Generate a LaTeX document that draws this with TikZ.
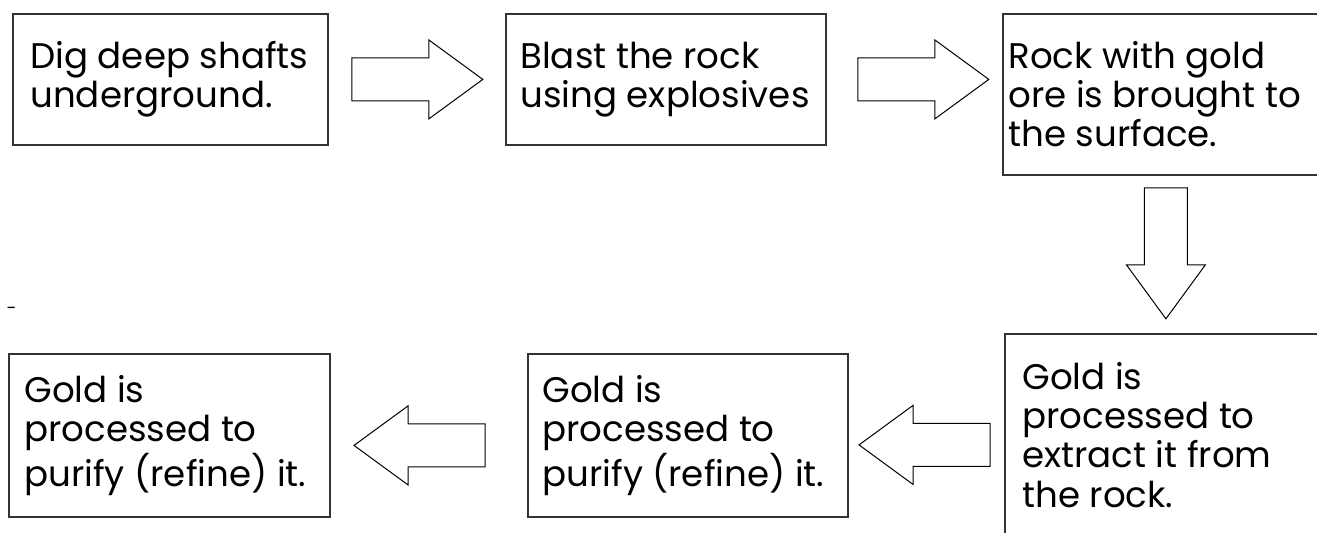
\documentclass[tikz,border=0pt]{standalone}
\usepackage{fontspec}
\setmainfont{Poppins}

\tikzset{
  stepbox/.style={draw=black!80, line width=0.9pt, anchor=north west, inner sep=0pt},
  steptext/.style={anchor=west, align=left, inner sep=0pt, font=\fontsize{17.8}{19.6}\selectfont},
  blockarrow/.pic={
    \draw[line width=0.5pt] (0,-21.5) -- (77,-21.5) -- (77,-39.5) -- (131,0)
      -- (77,39.5) -- (77,21.5) -- (0,21.5) -- cycle;
  }
}

\begin{document}
\begin{tikzpicture}[x=0.5pt,y=-0.5pt]
  \useasboundingbox (0,0) rectangle (1317,532);
  \clip (0,0) rectangle (1317,532);

  % top row
  \node[stepbox, minimum width=157.5pt, minimum height=65.5pt] (dig) at (12,13) {};
  \node[stepbox, minimum width=160pt, minimum height=65.5pt] (blast) at (505,13) {};
  \node[stepbox, minimum width=159pt, minimum height=80.5pt] (rock) at (1002,13) {};
  % bottom row
  \node[stepbox, minimum width=158pt, minimum height=104pt] (extract) at (1004,333) {};
  \node[stepbox, minimum width=160pt, minimum height=81.5pt] (refine) at (527,353) {};
  \node[stepbox, minimum width=160.5pt, minimum height=81.5pt] (purify) at (8,353) {};

  \node[steptext] (digtext) at ([xshift=9pt]dig.west) {Dig deep shafts\\underground.};
  \node[steptext] (blasttext) at ([xshift=7.5pt]blast.west) {Blast the rock\\using explosives};
  \node[steptext] (rocktext) at ([xshift=3pt]rock.west) {Rock with gold\\ore is brought to\\the surface.};
  \node[steptext] (extracttext) at ([xshift=9pt,yshift=1.5pt]extract.west) {Gold is\\processed to\\extract it from\\the rock.};
  \node[steptext] (refinetext) at ([xshift=7.5pt]refine.west) {Gold is\\processed to\\purify (refine) it.};
  \node[steptext] (purifytext) at ([xshift=8pt]purify.west) {Gold is\\processed to\\purify (refine) it.};

  \node[steptext, anchor=center, font=\fontsize{9}{9}\selectfont] (dash) at (11.5,311) {-};

  % block arrows
  \pic at ([xshift=11.5pt]dig.east) {blockarrow};
  \pic at ([xshift=15.5pt]blast.east) {blockarrow};
  \pic[rotate=-90] at ([xshift=2pt,yshift=-6pt]rock.south) {blockarrow};
  \pic[rotate=180] at ([xshift=-7pt,yshift=-3.5pt]extract.west) {blockarrow};
  \pic[rotate=180] at ([xshift=-21pt,yshift=-5pt]refine.west) {blockarrow};
\end{tikzpicture}
\end{document}
